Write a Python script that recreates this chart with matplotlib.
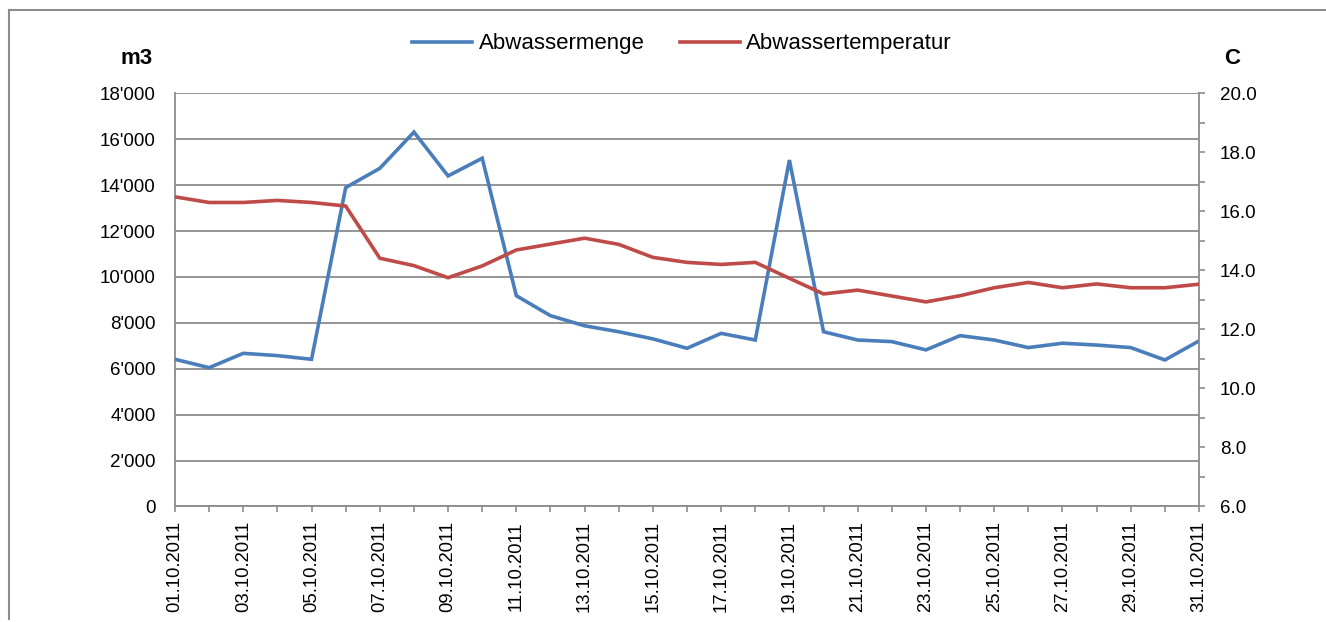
import matplotlib
matplotlib.use("Agg")
import matplotlib.pyplot as plt
from matplotlib.ticker import FuncFormatter, MultipleLocator
from matplotlib.lines import Line2D

plt.rcParams['font.family'] = ['Liberation Sans', 'DejaVu Sans']

dates = [f"{d:02d}.10.2011" for d in range(1, 32)]
menge = [6410, 6045, 6670, 6570, 6410, 13890, 14730, 16310, 14400, 15170,
         9180, 8310, 7870, 7610, 7300, 6890, 7540, 7250, 15090, 7610,
         7250, 7180, 6820, 7440, 7250, 6920, 7110, 7030, 6920, 6380, 7210]
temp = [16.49, 16.30, 16.30, 16.37, 16.30, 16.18, 14.41, 14.16, 13.75, 14.15,
        14.69, 14.89, 15.09, 14.88, 14.44, 14.27, 14.20, 14.27, 13.73, 13.20,
        13.33, 13.13, 12.93, 13.14, 13.41, 13.59, 13.41, 13.54, 13.41, 13.41, 13.53]
series_names = ["Abwassermenge", "Abwassertemperatur"]
colors = ["#4A7EBB", "#BE4B48"]
grid_c = "#8C8C8C"

W, H = 1326, 622
fig = plt.figure(figsize=(W / 100, H / 100), dpi=100)
L, R, T, B = 175, 1199, 93.3, 506.4
ax = fig.add_axes([L / W, 1 - B / H, (R - L) / W, (B - T) / H])
ax2 = ax.twinx()

x = list(range(len(dates)))
ax.plot(x, menge, color=colors[0], lw=2.6, solid_joinstyle='miter', zorder=3)
ax2.plot(x, temp, color=colors[1], lw=2.6, solid_joinstyle='miter', zorder=3)

ax.set_xlim(0, len(dates) - 1)
ax.set_ylim(0, 18000)
ax2.set_ylim(6, 20)

ax.yaxis.set_major_locator(MultipleLocator(2000))
ax.yaxis.set_major_formatter(FuncFormatter(lambda v, p: f"{int(v):,}".replace(",", "'")))
ax.grid(axis='y', color=grid_c, lw=1.3)
ax.set_axisbelow(True)
ax.tick_params(axis='y', length=0, pad=14, labelsize=13.5)

ax.set_xticks(x[::2])
ax.set_xticklabels(dates[::2], rotation=90, fontsize=13.3)
ax.set_xticks(x[1::2], minor=True)
ax.tick_params(axis='x', which='both', length=4.5, width=1.2, color=grid_c, pad=6, direction='out')

ax2.yaxis.set_major_locator(MultipleLocator(2))
ax2.yaxis.set_minor_locator(MultipleLocator(1))
ax2.yaxis.set_major_formatter(FuncFormatter(lambda v, p: f"{v:.1f}"))
ax2.tick_params(axis='y', which='both', length=4, width=1.2, color=grid_c, pad=11, labelsize=13.5, direction='out')

for a in (ax, ax2):
    for s in a.spines.values():
        s.set_color(grid_c)
        s.set_linewidth(1.3)
    a.spines['top'].set_visible(False)
ax.spines['right'].set_visible(False)
ax2.spines['left'].set_visible(False)
ax2.spines['bottom'].set_visible(False)

fig.text(153 / W, 1 - 58 / H, "m3", ha='right', va='center', fontsize=16, fontweight='bold')
fig.text(1232 / W, 1 - 59 / H, "C", ha='center', va='center', fontsize=16, fontweight='bold')

handles = [Line2D([], [], color=c, lw=2.6) for c in colors]
fig.legend(handles, series_names, loc='center', bbox_to_anchor=(682 / W, 1 - 44 / H),
           ncol=2, frameon=False, fontsize=16, handlelength=2.7, handletextpad=0.28,
           columnspacing=1.6)

# outer chart border (cut at right and bottom)
fig.add_artist(Line2D([9 / W, 1.0], [1 - 9.5 / H, 1 - 9.5 / H], transform=fig.transFigure, color='#8C8C8C', lw=1.5))
fig.add_artist(Line2D([9 / W, 9 / W], [1 - 9.5 / H, 0.005], transform=fig.transFigure, color='#8C8C8C', lw=1.5))

fig.savefig("out.png", dpi=100)
